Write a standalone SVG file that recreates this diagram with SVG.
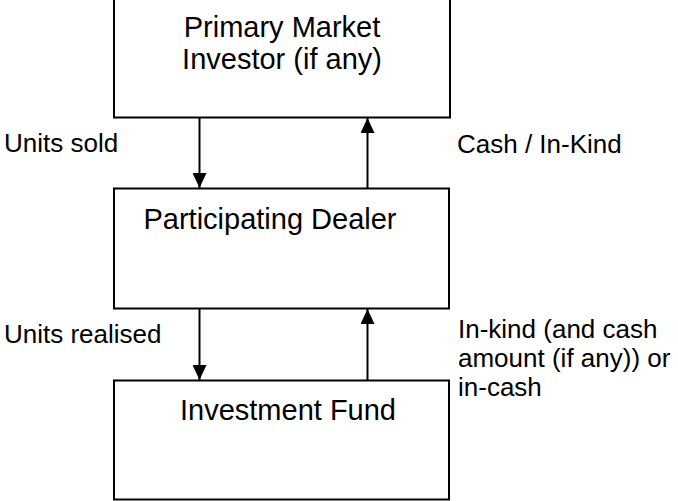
<svg xmlns="http://www.w3.org/2000/svg" width="678" height="501" viewBox="0 0 678 501">
<style>
.box{fill:#fff;stroke:#000;stroke-width:2}
.t{font-family:"Liberation Sans",Arial,sans-serif;fill:#000}
.main{font-size:29px;text-anchor:middle}
.lab{font-size:26px}
.ln{stroke:#000;stroke-width:2;fill:none}
</style>
<defs>
<marker id="ah" viewBox="0 0 15 14" refX="15" refY="7" markerWidth="15" markerHeight="14" markerUnits="userSpaceOnUse" orient="auto">
<path d="M0,0 L15,7 L0,14 Z" fill="#000"/>
</marker>
</defs>
<rect width="678" height="501" fill="#fff"/>
<g id="investor">
<rect class="box" x="114" y="-10" width="336" height="127.5"/>
<text class="t main" x="282" y="37">Primary Market</text>
<text class="t main" x="282" y="69">Investor (if any)</text>
</g>
<g id="dealer">
<rect class="box" x="114" y="188.5" width="335" height="120"/>
<text class="t main" x="270" y="228.5">Participating Dealer</text>
</g>
<g id="fund">
<rect class="box" x="114" y="380.5" width="335" height="119"/>
<text class="t main" x="288" y="420">Investment Fund</text>
</g>
<g id="connectors">
<line class="ln" x1="199.5" y1="118" x2="199.5" y2="188" marker-end="url(#ah)"/>
<line class="ln" x1="367.5" y1="188" x2="367.5" y2="118" marker-end="url(#ah)"/>
<line class="ln" x1="199.5" y1="309" x2="199.5" y2="380" marker-end="url(#ah)"/>
<line class="ln" x1="367.5" y1="380" x2="367.5" y2="309" marker-end="url(#ah)"/>
</g>
<g id="labels">
<text class="t lab" x="4" y="152">Units sold</text>
<text class="t lab" x="457" y="153">Cash / In-Kind</text>
<text class="t lab" x="4" y="343">Units realised</text>
<text class="t lab" x="458" y="338">In-kind (and cash</text>
<text class="t lab" x="458" y="367">amount (if any)) or</text>
<text class="t lab" x="458" y="396">in-cash</text>
</g>
</svg>
